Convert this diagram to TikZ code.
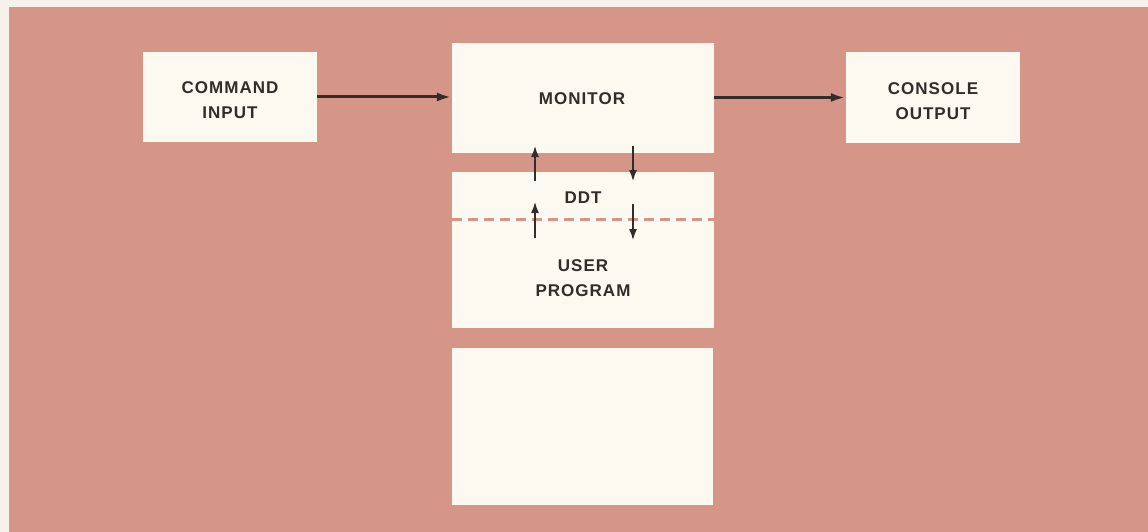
\documentclass[tikz,border=0pt]{standalone}
\usepackage{fontspec}
\setmainfont{Liberation Sans}[LetterSpace=6]
\usetikzlibrary{arrows.meta}
\definecolor{pagebg}{RGB}{246,242,233}
\definecolor{pinkbg}{RGB}{213,150,136}
\definecolor{boxfill}{RGB}{252,250,240}
\definecolor{ink}{RGB}{50,44,42}
\tikzset{
  box/.style={fill=boxfill, draw=none, inner sep=0pt, align=center, text=ink,
    font=\fontsize{17}{24.5}\selectfont\bfseries},
  lbl/.style={inner sep=0pt, align=center, text=ink, font=\fontsize{17}{24.5}\selectfont\bfseries},
  flow/.style={draw=ink, line width=3pt, -{Latex[length=15pt,width=9pt]}},
  vflow/.style={draw=ink, line width=2.5pt, -{Latex[length=12pt,width=8pt]}}
}
\begin{document}
\begin{tikzpicture}[x=1pt,y=-1pt]
\useasboundingbox (0,0) rectangle (1148,532);
\fill[pagebg] (0,0) rectangle (1148,532);
\fill[pinkbg] (9,7) rectangle (1148,532);

\node[box, minimum width=174pt, minimum height=90pt] (cmd) at (230,97) {};
\node[box, minimum width=262pt, minimum height=110pt] (mon) at (583,98) {};
\node[box, minimum width=174pt, minimum height=91pt] (con) at (933,97.5) {};
\node[box, minimum width=262pt, minimum height=156pt] (ddt) at (583,250) {};
\node[box, minimum width=261pt, minimum height=157pt] (bot) at (582.5,426.5) {};

\node[lbl] (cmdl) at (230,100) {COMMAND\\INPUT};
\node[lbl] (monl) at (582,99) {MONITOR};
\node[lbl] (conl) at (933,101) {CONSOLE\\OUTPUT};
\node[lbl] (ddtl) at (583,198) {DDT};
\node[lbl] (userl) at (583,278) {USER\\PROGRAM};

\draw[pinkbg, line width=3pt, dash pattern=on 10pt off 6pt] (ddt.west |- 0,219) coordinate (dl) -- (ddt.east |- 0,219) coordinate (dr);

\draw[flow] (cmd.east) -- (cmd.east -| mon.west);
\draw[flow] (mon.east |- con.west) -- (con.west);

\coordinate (u1s) at (535,181);
\coordinate (u1e) at (535,145);
\coordinate (d1s) at (633,146);
\coordinate (d1e) at (633,182);
\coordinate (u2s) at (535,238);
\coordinate (u2e) at (535,201);
\coordinate (d2s) at (633,204);
\coordinate (d2e) at (633,241);
\draw[vflow] (u1s) -- (u1e);
\draw[vflow] (d1s) -- (d1e);
\draw[vflow] (u2s) -- (u2e);
\draw[vflow] (d2s) -- (d2e);
\end{tikzpicture}
\end{document}
